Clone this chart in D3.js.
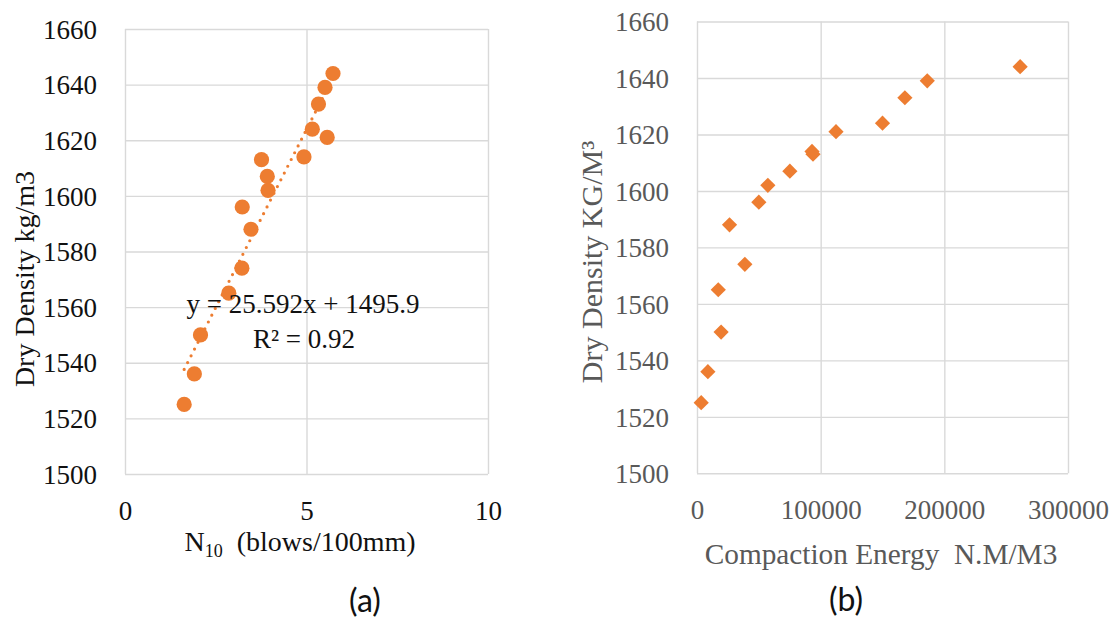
<!DOCTYPE html>
<html>
<head>
<meta charset="utf-8">
<script src="https://cdn.jsdelivr.net/npm/d3@7"></script>
<style>
  html, body { margin: 0; padding: 0; background: #fff; }
  svg { display: block; }
  .serif { font-family: "Liberation Serif", "Times New Roman", serif; }
</style>
</head>
<body>
<svg id="chart" width="1118" height="619"></svg>
<script>
// ---------- data ----------
const blowsN10   = [1.63, 1.91, 2.08, 2.86, 3.22, 3.47, 3.23, 3.94, 3.92, 3.76, 4.93, 5.57, 5.16, 5.33, 5.51, 5.73];
const densityA   = [1525, 1536, 1550, 1565, 1574, 1588, 1596, 1602, 1607, 1613, 1614, 1621, 1624, 1633, 1639, 1644];
const energy     = [3400, 8800, 19500, 17200, 38700, 26300, 50000, 57300, 75100, 93800, 93000, 112400, 150000, 168100, 186200, 261300];
const densityB   = [1525, 1536, 1550, 1565, 1574, 1588, 1596, 1602, 1607, 1613, 1614, 1621, 1624, 1633, 1639, 1644];
const xTicksA    = [0, 5, 10];
const xTicksB    = [0, 100000, 200000, 300000];
const yTicks     = [1500, 1520, 1540, 1560, 1580, 1600, 1620, 1640, 1660];
const trendSlope = 25.592;
const trendIntercept = 1495.9;
const eqLabel    = "y = 25.592x + 1495.9";
const r2Label    = "R\u00B2 = 0.92";

const ORANGE = "#ED7D31";
const GRID = "#d9d9d9";
const svg = d3.select("#chart");

function drawGrid(g, x, y, xt, yt, color) {
  const [x0, x1] = x.range();
  const [y0, y1] = y.range();
  const gx = g.append("g").attr("transform", `translate(0,${y0})`)
    .call(d3.axisBottom(x).tickValues(xt).tickSize(-(y0 - y1)).tickPadding(28).tickFormat(d3.format("d")));
  const gy = g.append("g").attr("transform", `translate(${x0},0)`)
    .call(d3.axisLeft(y).tickValues(yt).tickSize(-(x1 - x0)).tickPadding(28).tickFormat(d3.format("d")));
  [gx, gy].forEach(a => {
    a.select(".domain").remove();
    a.selectAll(".tick line").attr("stroke", GRID).attr("stroke-width", 1.4);
    a.selectAll(".tick text").attr("class", "serif").attr("font-size", 27).attr("fill", color);
  });
  gx.selectAll(".tick text").attr("dy", "0.66em");
  gy.selectAll(".tick text").attr("dy", "0.34em");
}

// ---------- chart (a) ----------
const xA = d3.scaleLinear().domain([0, 10]).range([125, 488]);
const yA = d3.scaleLinear().domain([1500, 1660]).range([474, 29]);
const gA = svg.append("g");
drawGrid(gA, xA, yA, xTicksA, yTicks, "#111");

const xMin = d3.min(blowsN10), xMax = d3.max(blowsN10);
gA.append("line")
  .attr("x1", xA(xMin)).attr("y1", yA(trendSlope * xMin + trendIntercept))
  .attr("x2", xA(xMax)).attr("y2", yA(trendSlope * xMax + trendIntercept))
  .attr("stroke", ORANGE).attr("stroke-width", 3.2)
  .attr("stroke-linecap", "round").attr("stroke-dasharray", "0 7.6");

gA.selectAll("circle.pt").data(blowsN10).join("circle")
  .attr("class", "pt")
  .attr("cx", d => xA(d))
  .attr("cy", (d, i) => yA(densityA[i]))
  .attr("r", 7.6).attr("fill", ORANGE);

gA.append("text").attr("class", "serif").attr("x", 303).attr("y", 313)
  .attr("text-anchor", "middle").attr("font-size", 27).attr("fill", "#111").text(eqLabel);
gA.append("text").attr("class", "serif").attr("x", 304).attr("y", 348)
  .attr("text-anchor", "middle").attr("font-size", 27).attr("fill", "#111").text(r2Label);

const xtA = gA.append("text").attr("class", "serif").attr("x", 300).attr("y", 551)
  .attr("text-anchor", "middle").attr("font-size", 28).attr("fill", "#111");
xtA.append("tspan").text("N");
xtA.append("tspan").attr("font-size", 18).attr("dy", 6).text("10");
xtA.append("tspan").attr("dy", -6).text("\u00A0\u00A0(blows/100mm)");

gA.append("text").attr("class", "serif")
  .attr("transform", "translate(34,279) rotate(-90)")
  .attr("text-anchor", "middle").attr("font-size", 28).attr("fill", "#111")
  .text("Dry Density kg/m3");

svg.append("text").attr("x", 365).attr("y", 612).attr("text-anchor", "middle")
  .attr("font-family", "Lato, 'Open Sans', sans-serif").attr("font-size", 32).attr("fill", "#111").text("(a)");

// ---------- chart (b) ----------
const xB = d3.scaleLinear().domain([0, 300000]).range([697, 1068]);
const yB = d3.scaleLinear().domain([1500, 1660]).range([473.3, 21.5]);
const gB = svg.append("g");
drawGrid(gB, xB, yB, xTicksB, yTicks, "#595959");

const diamond = 7.6;
gB.selectAll("path.pt").data(energy).join("path")
  .attr("class", "pt")
  .attr("transform", (d, i) => `translate(${xB(d)},${yB(densityB[i])})`)
  .attr("d", `M0,${-diamond}L${diamond},0L0,${diamond}L${-diamond},0Z`)
  .attr("fill", ORANGE);

gB.append("text").attr("class", "serif").attr("x", 881).attr("y", 564)
  .attr("text-anchor", "middle").attr("font-size", 29.3).attr("fill", "#595959")
  .text("Compaction Energy\u00A0\u00A0N.M/M3");

gB.append("text").attr("class", "serif")
  .attr("transform", "translate(602,262) rotate(-90)")
  .attr("text-anchor", "middle").attr("font-size", 30).attr("fill", "#595959")
  .text("Dry Density KG/M\u00B3");

svg.append("text").attr("x", 846).attr("y", 611).attr("text-anchor", "middle")
  .attr("font-family", "Lato, 'Open Sans', sans-serif").attr("font-size", 32).attr("fill", "#111").text("(b)");
</script>
</body>
</html>
